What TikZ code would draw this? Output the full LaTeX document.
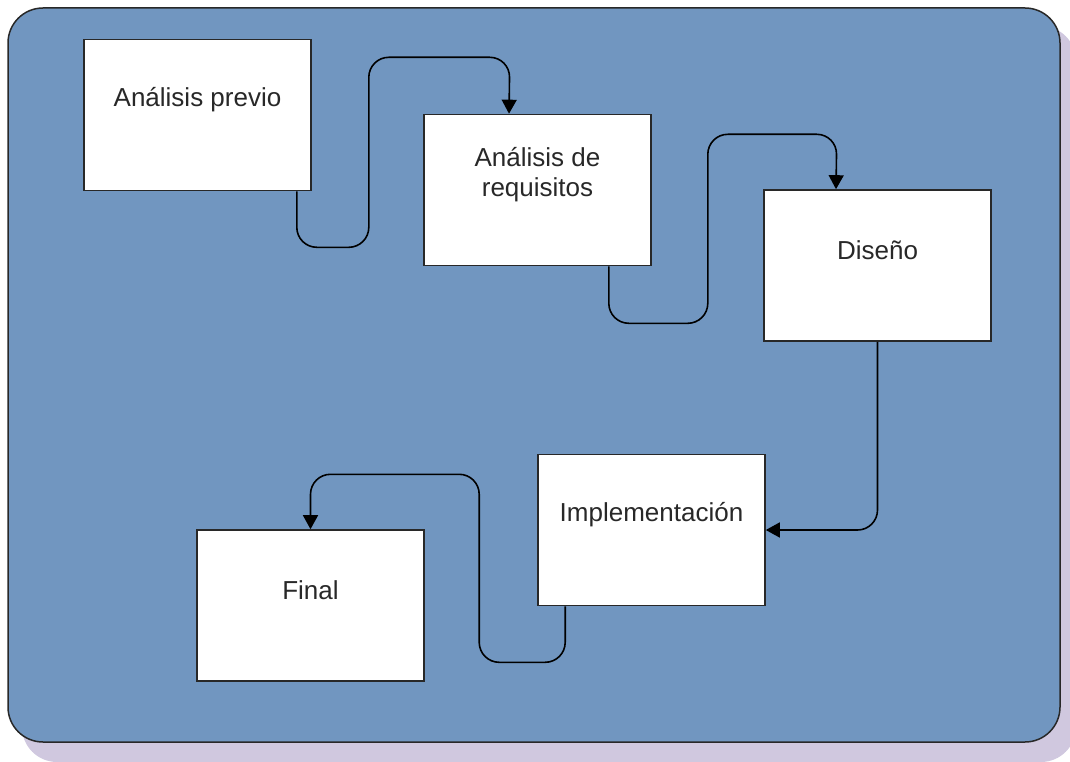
\documentclass[tikz,border=0pt]{standalone}
\usepackage{fontspec}
\setmainfont{Liberation Sans}
\usetikzlibrary{arrows.meta}

\definecolor{PanelBlue}{RGB}{113,150,192}
\definecolor{PanelShadow}{RGB}{208,200,223}
\definecolor{InkGray}{RGB}{40,40,40}

\tikzset{
  stagebox/.style={draw=InkGray,fill=white,line width=1.6pt,minimum width=227pt,minimum height=151pt,inner sep=0pt},
  stagelabel/.style={text=InkGray,align=center,font=\fontsize{26}{30}\selectfont,inner sep=0pt},
  flow/.style={draw=black,line width=1.6pt,rounded corners=20pt,-{Triangle[length=14pt,width=15pt]}}
}

\newcommand{\drawstage}[3]{% Parameters: name, centre, label
  \node[stagebox] (#1) at (#2) {};
  \node[stagelabel] (#1-label) at ([yshift=-61pt]#1.north) {#3};
}

\begin{document}
\begin{tikzpicture}[x=1pt,y=-1pt]
  \useasboundingbox (0,0) rectangle (1070,762);
  % panel and its shadow
  \begin{scope}
    \clip (0,0) rectangle (1070,762);
    \fill[PanelShadow,rounded corners=35pt] (22,26) rectangle (1076,762);
  \end{scope}
  \draw[draw=InkGray,fill=PanelBlue,line width=1.5pt,rounded corners=35pt] (8,8) rectangle (1060,742);

  \drawstage{prev}{197.5,115}{Análisis previo}
  \drawstage{req}{537.5,190}{Análisis de\\requisitos}
  \drawstage{des}{877.5,265.5}{Diseño}
  \drawstage{impl}{651.5,530}{Implementación}
  \drawstage{fin}{310.5,605.5}{Final}

  \draw[flow] ([xshift=-15pt]prev.south east) -- ++(0,56) -- ++(72,0) -- ++(0,-190) -- ++(141,0) -- ([xshift=-28.5pt]req.north);
  \draw[flow] ([xshift=-43pt]req.south east) -- ++(0,57) -- ++(99,0) -- ++(0,-189) -- ++(129,0) -- ([xshift=-41.5pt]des.north);
  \draw[flow] (des.south) |- (impl.east);
  \draw[flow] ([xshift=28pt]impl.south west) -- ++(0,56) -- ++(-86,0) -- ++(0,-188) -| (fin.north);
\end{tikzpicture}
\end{document}
